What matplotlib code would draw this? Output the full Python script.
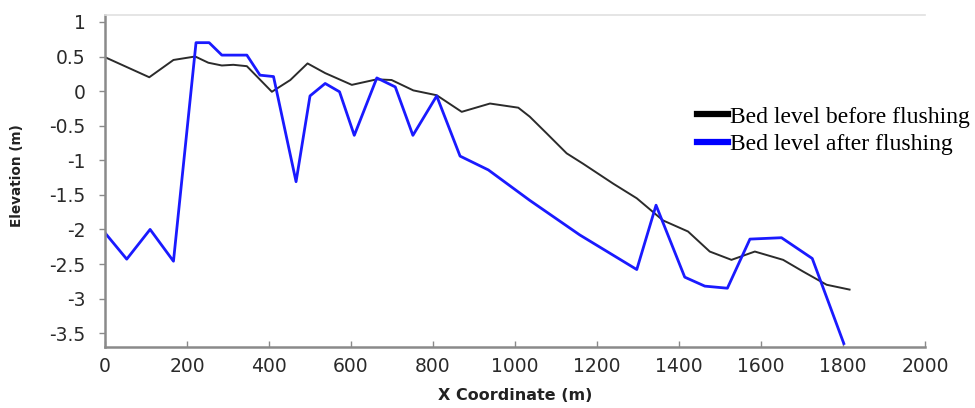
import matplotlib
matplotlib.use("Agg")
import matplotlib.pyplot as plt
from matplotlib.lines import Line2D

# Bed level before flushing
x_before = [0, 108, 167, 220, 252, 285, 313, 346, 407, 452, 494, 537, 602, 663, 699,
            752, 809, 870, 939, 1008, 1036, 1077, 1126, 1166, 1240, 1297, 1361, 1422,
            1475, 1528, 1585, 1654, 1703, 1760, 1816]
y_before = [0.49, 0.20, 0.45, 0.50, 0.41, 0.37, 0.38, 0.36, -0.01, 0.16, 0.40, 0.26, 0.09,
            0.17, 0.16, 0.01, -0.06, -0.30, -0.18, -0.24, -0.37, -0.61, -0.90, -1.05,
            -1.34, -1.55, -1.87, -2.03, -2.32, -2.44, -2.32, -2.44, -2.61, -2.80, -2.87]

# Bed level after flushing
x_after = [0, 53, 110, 167, 222, 254, 285, 346, 378, 411, 466, 500, 537, 572, 608, 663,
           708, 751, 809, 866, 935, 1036, 1158, 1297, 1344, 1414, 1463, 1518, 1573, 1650,
           1725, 1802]
y_after = [-2.05, -2.43, -2.0, -2.46, 0.70, 0.70, 0.52, 0.52, 0.23, 0.21, -1.31, -0.07,
           0.11, -0.01, -0.64, 0.19, 0.06, -0.64, -0.07, -0.94, -1.14, -1.58, -2.08,
           -2.58, -1.65, -2.69, -2.82, -2.85, -2.14, -2.12, -2.42, -3.65]

x_ticks = [0, 200, 400, 600, 800, 1000, 1200, 1400, 1600, 1800, 2000]
y_ticks = [-3.5, -3, -2.5, -2, -1.5, -1, -0.5, 0, 0.5, 1]
labels = ["Bed level before flushing", "Bed level after flushing"]

fig = plt.figure(figsize=(9.75, 4.08), dpi=100)
ax = fig.add_axes([105/975, 1-347/408, 820/975, 332/408])

ax.plot(x_before, y_before, color="#2b2b2b", lw=1.4, solid_joinstyle="round")
ax.plot(x_after, y_after, color="#1a1aff", lw=2.0, solid_joinstyle="round")

ax.set_xlim(0, 2000)
ax.set_ylim(-3.7, 1.1)
ax.set_xticks(x_ticks)
ax.set_yticks(y_ticks)
ax.set_xticklabels([str(v) for v in x_ticks])
ax.set_yticklabels([("%g" % v) for v in y_ticks])

for s in ["left", "bottom"]:
    ax.spines[s].set_color("#8a8a8a")
    ax.spines[s].set_linewidth(1.8)
ax.spines["top"].set_color("#e0e0e0")
ax.spines["top"].set_linewidth(1.2)
ax.spines["right"].set_visible(False)

ax.tick_params(axis="x", direction="in", length=4, width=1, color="#8a8a8a",
               labelsize=13.5, labelcolor="#2a2a2a", pad=7)
ax.tick_params(axis="y", direction="out", length=4, width=1, color="#8a8a8a",
               labelsize=13.5, labelcolor="#2a2a2a", pad=10)

fig.text(515/975, 1-396/408, "X Coordinate (m)", ha="center", va="center",
         fontsize=11.5, fontweight="bold", color="#222222")
fig.text(17/975, 1-176/408, "Elevation (m)", ha="center", va="center",
         rotation=90, fontsize=9.8, fontweight="bold", color="#222222")

handles = [Line2D([], [], color="black", lw=4.5),
           Line2D([], [], color="#0000ff", lw=4.5)]
fig.legend(handles, labels, loc="upper left", bbox_to_anchor=(697/975, 1-106/408),
           frameon=False, handlelength=1.3, handletextpad=0.1, labelspacing=0.25,
           borderpad=0, borderaxespad=0,
           prop={"family": "Liberation Serif", "size": 17})

fig.savefig("out.png", dpi=100)
